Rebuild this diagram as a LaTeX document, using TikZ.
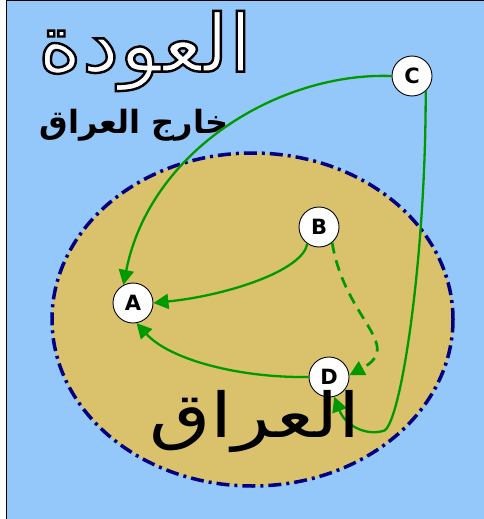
\documentclass[tikz,border=0pt]{standalone}
\usepackage{fontspec}
\usetikzlibrary{arrows.meta}
\TeXXeTstate=1
\newfontfamily\arabicfont[Script=Arabic]{DejaVu Sans}
\newfontfamily\titlefont[Script=Arabic,FakeBold=3,FakeStretch=1.05]{DejaVu Sans}
\newfontfamily\iraqfont[Script=Arabic,FakeStretch=1.28]{DejaVu Sans}
\newfontfamily\latinbold{DejaVu Sans}
\definecolor{skyblue}{RGB}{148,200,250}
\definecolor{sandtan}{RGB}{218,194,108}
\definecolor{grn}{RGB}{0,153,0}
\definecolor{navyc}{RGB}{0,0,128}
\begin{document}
\begin{tikzpicture}[x=1pt,y=-1pt,
  pt/.style={circle,draw=black,line width=0.9pt,fill=white,minimum size=40pt,inner sep=0pt,font=\latinbold\bfseries\fontsize{21}{21}\selectfont},
  link/.style={draw=grn,line width=2.3pt,-{Triangle[length=15pt,width=15pt]}},
  dlink/.style={link,line width=2.7pt,dash pattern=on 11pt off 7pt}]
\useasboundingbox (0,0) rectangle (483,519);
\draw[fill=skyblue,line width=1.5pt] (6.5,0.75) rectangle (500,540);
\draw[fill=sandtan,draw=navyc,line width=3.5pt,dash pattern=on 13pt off 5pt on 3pt off 5pt] (252.5,319.5) ellipse [x radius=200.5, y radius=166.5];
\node[font=\titlefont\fontsize{80}{84}\selectfont,text=white] (title) at (145,51) {\special{pdf:code 0 0 0 RG}\beginR العودة\endR};
\node[font=\arabicfont\bfseries\fontsize{32}{34}\selectfont] (outside) at (134,125) {\beginR خارج العراق\endR};
\node[pt] (A) at (133,303) {A};
\node[pt] (B) at (319,227) {B};
\node[pt] (C) at (412,76) {C};
\node[pt] (D) at (329,377) {D};
\path[link] (C.180) .. controls (280,72) and (150,150) .. (A.118);
\path[link] (B.235) .. controls (303,270) and (230,295) .. (A.east);
\path[dlink] (B.-50) .. controls (345,320) and (405,345) .. (D.5);
\path[link] (D.west) .. controls (240,378) and (170,360) .. (A.-80);
\path[link] (C.-48) .. controls (426,260) and (400,430) .. (383,431) .. controls (365,436) and (345,425) .. (D.-75);
\node[font=\iraqfont\fontsize{62}{64}\selectfont] (iraq) at (255,422) {\beginR العراق\endR};
\end{tikzpicture}
\end{document}
